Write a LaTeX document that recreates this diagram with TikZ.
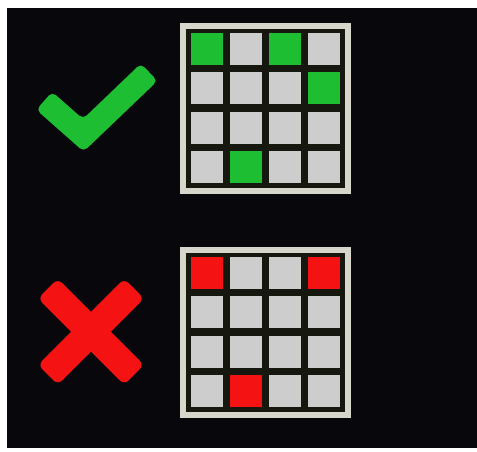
\documentclass[tikz,border=0pt]{standalone}
\usetikzlibrary{calc}
\definecolor{bgdark}{RGB}{8,8,12}
\definecolor{framelight}{RGB}{214,214,202}
\definecolor{griddark}{RGB}{22,24,16}
\definecolor{cellgray}{RGB}{205,205,205}
\definecolor{okgreen}{RGB}{30,190,50}
\definecolor{badred}{RGB}{245,18,18}
\begin{document}
\begin{tikzpicture}[x=1pt, y=-1pt]
  \tikzstyle{cellbox}=[fill=cellgray]
  \useasboundingbox (0,0) rectangle (477,451);
  \fill[white] (0,0) rectangle (477,451);
  \fill[bgdark] (7,8) rectangle (477,447.5);
  % the two 4x4 boards
  \foreach \gy in {22.5, 246.5} {
    \fill[framelight] (180,\gy) rectangle ++(171,171);
    \fill[griddark] (186,\gy+6) rectangle ++(159,159);
    \foreach \r in {0,...,3}
      \foreach \c in {0,...,3}
        \fill[cellbox] ({190.5+\c*39.33},{\gy+10.5+\r*39.33}) rectangle ++(32,32);
  }
  \foreach \r/\c in {0/0, 0/2, 1/3, 3/1}
    \fill[okgreen] ({190.5+\c*39.33},{33+\r*39.33}) rectangle ++(32,32);
  \foreach \r/\c in {0/0, 0/3, 3/1}
    \fill[badred] ({190.5+\c*39.33},{257+\r*39.33}) rectangle ++(32,32);
  % check mark
  \fill[okgreen, rounded corners=5] (52.1,91.8) -- (83.0,119.0) -- (140.9,63.5)
    -- (157.5,80.9) -- (83.6,151.6) -- (36.3,109.8) -- cycle;
  % cross
  \coordinate (xc) at (91,331.7);
  \foreach \ang in {45, -45}
    \fill[badred, rounded corners=6, rotate around={\ang:(xc)}]
      ($(xc)+(-61,-14)$) rectangle ($(xc)+(61,14)$);
\end{tikzpicture}
\end{document}
